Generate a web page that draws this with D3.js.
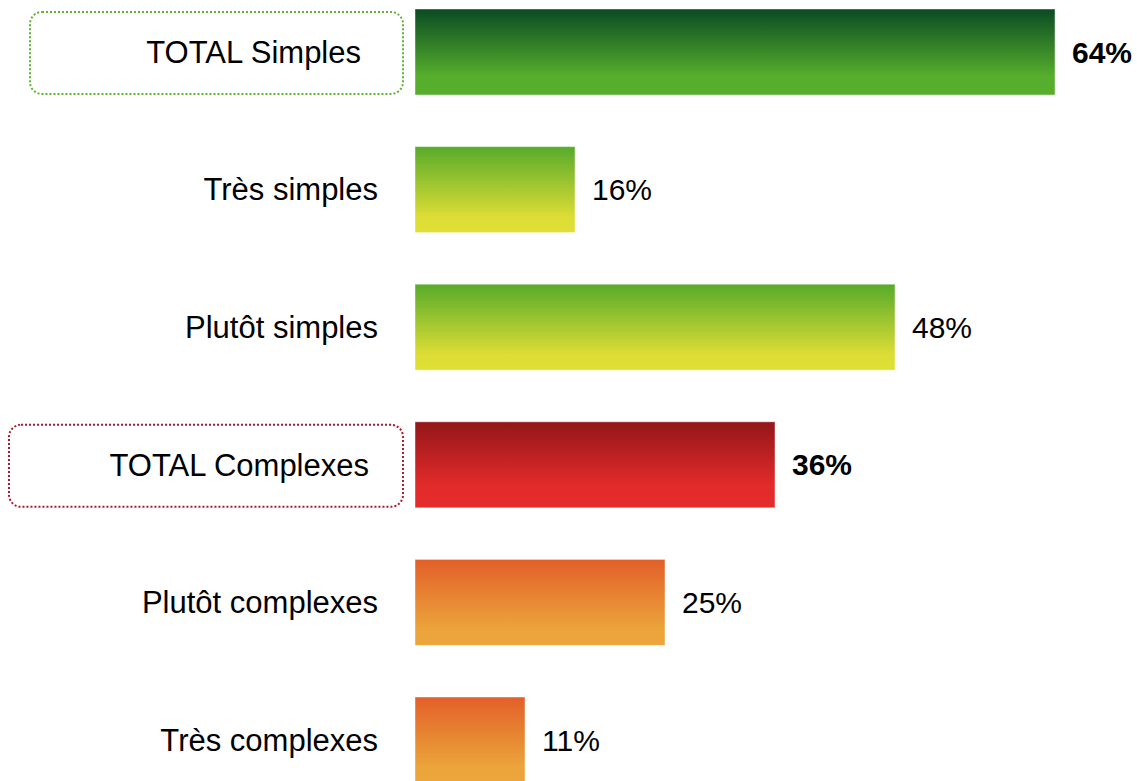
<!DOCTYPE html>
<html>
<head>
<meta charset="utf-8">
<script src="https://cdn.jsdelivr.net/npm/d3@7"></script>
<style>
  body { margin: 0; background: #fff; }
  svg { display: block; font-family: "Liberation Sans", Arial, sans-serif; }
</style>
</head>
<body>
<div id="chart"></div>
<script>
// data
const categories = ["TOTAL Simples", "Très simples", "Plutôt simples", "TOTAL Complexes", "Plutôt complexes", "Très complexes"];
const values = [64, 16, 48, 36, 25, 11];
const groups = ["totalSimple", "simple", "simple", "totalComplex", "complex", "complex"];
const isTotal = [true, false, false, true, false, false];

const width = 1137;
const height = 781;

const svg = d3.select("#chart")
    .append("svg")
    .attr("width", width)
    .attr("height", height);

// gradients, one per group
const gradients = {
    totalSimple: [["0%", "#0a4a23"], ["78%", "#56ae2c"], ["100%", "#56ae2c"]],
    simple: [["0%", "#57ab2b"], ["82%", "#dddd35"], ["100%", "#dfe036"]],
    totalComplex: [["0%", "#931619"], ["75%", "#e42b2b"], ["100%", "#e42c2c"]],
    complex: [["0%", "#e35f29"], ["80%", "#eba33a"], ["100%", "#eca63b"]]
};
const boxColor = { totalSimple: "#5fb633", totalComplex: "#b0182b" };

const defs = svg.append("defs");
Object.keys(gradients).forEach((k) => {
    const g = defs.append("linearGradient")
        .attr("id", "grad-" + k)
        .attr("x1", 0).attr("y1", 0)
        .attr("x2", 0).attr("y2", 1);
    gradients[k].forEach((s) => {
        g.append("stop").attr("offset", s[0]).attr("stop-color", s[1]);
    });
});

const x = d3.scaleLinear()
    .domain([0, 100])
    .range([415, 1415]);

const y = d3.scaleBand()
    .domain(categories)
    .range([9, 783])
    .paddingInner(0.375)
    .paddingOuter(0);

const rows = categories.map((c, i) => ({ cat: c, value: values[i], group: groups[i], total: isTotal[i] }));

// dotted boxes around the totals
svg.append("g")
    .selectAll("rect")
    .data(rows.filter(d => d.total))
    .enter()
    .append("rect")
    .attr("x", d => d.group === "totalSimple" ? 30 : 9)
    .attr("y", d => y(d.cat) + 3)
    .attr("width", d => d.group === "totalSimple" ? 373 : 394)
    .attr("height", y.bandwidth() - 4)
    .attr("rx", 12)
    .attr("fill", "none")
    .attr("stroke", d => boxColor[d.group])
    .attr("stroke-width", 2)
    .attr("stroke-dasharray", "2,2");

// bars
svg.append("g")
    .selectAll("rect")
    .data(rows)
    .enter()
    .append("rect")
    .attr("x", x(0))
    .attr("y", d => y(d.cat))
    .attr("width", d => x(d.value) - x(0))
    .attr("height", y.bandwidth())
    .attr("fill", d => "url(#grad-" + d.group + ")")
    .attr("stroke", "#ffffff")
    .attr("stroke-opacity", 0.45)
    .attr("stroke-width", 1);

// category labels
svg.append("g")
    .selectAll("text")
    .data(rows)
    .enter()
    .append("text")
    .attr("x", d => d.group === "totalSimple" ? 361 : d.group === "totalComplex" ? 369 : 378)
    .attr("y", d => y(d.cat) + y.bandwidth() / 2)
    .attr("dy", "0.35em")
    .attr("text-anchor", "end")
    .style("font-size", "31px")
    .style("fill", "#000")
    .text(d => d.cat);

// value labels
svg.append("g")
    .selectAll("text")
    .data(rows)
    .enter()
    .append("text")
    .attr("x", d => x(d.value) + 17)
    .attr("y", d => y(d.cat) + y.bandwidth() / 2)
    .attr("dy", "0.35em")
    .style("font-size", "30px")
    .style("font-weight", d => d.total ? "700" : "400")
    .style("fill", "#000")
    .text(d => d.value + "%");
</script>
</body>
</html>
